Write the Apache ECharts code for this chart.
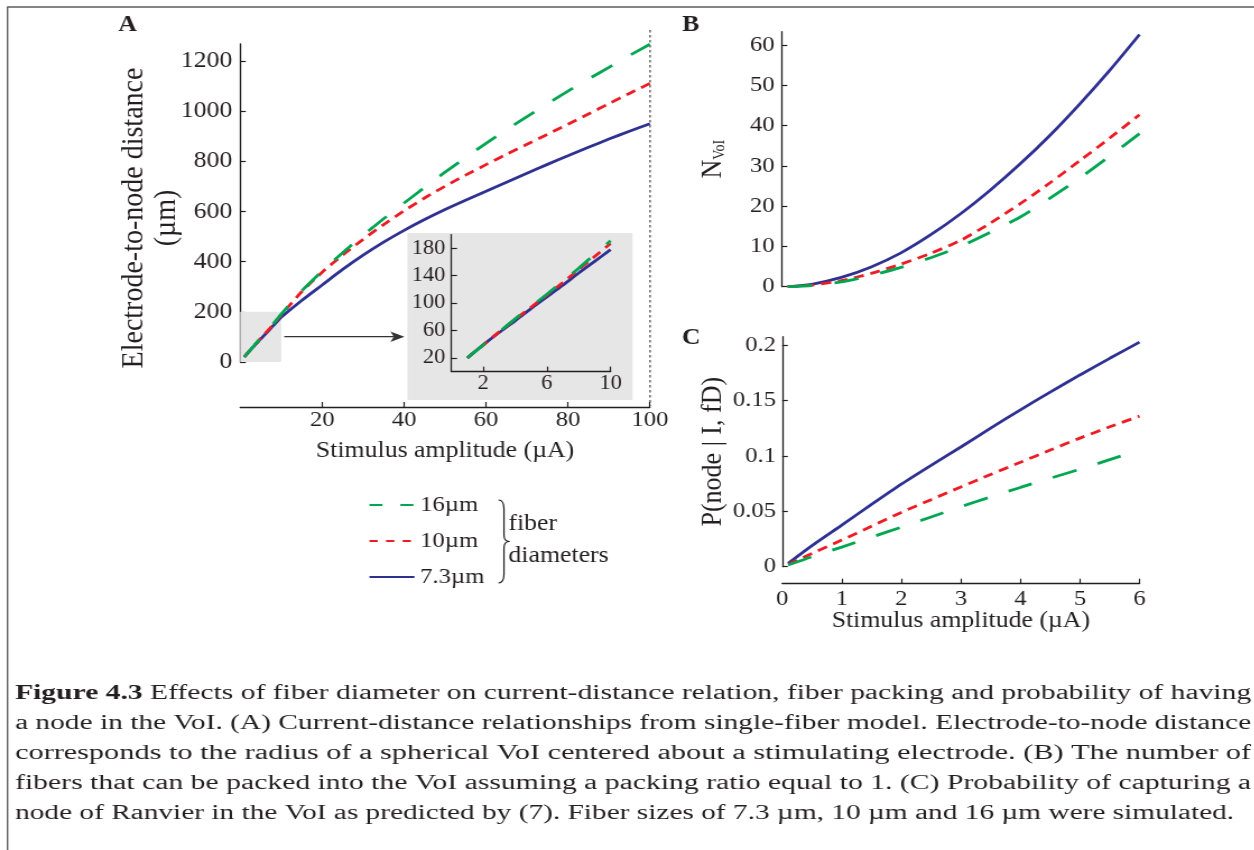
<!DOCTYPE html>
<html>
<head>
<meta charset="utf-8">
<script src="https://cdn.jsdelivr.net/npm/echarts@6/dist/echarts.min.js"></script>
<style>
  html, body { margin: 0; padding: 0; background: #fff; overflow: hidden; }
  #wrap { width: 1254px; height: 850px; overflow: hidden; position: relative; background: #fff; }
  #chart { position: absolute; left: 0; top: 0; height: 850px; transform-origin: 0 0; }
</style>
</head>
<body>
<div id="wrap"><div id="chart"></div></div>
<script>
// ---------- data ----------
const fiberNames = ['16µm', '10µm', '7.3µm'];

// (A) electrode-to-node distance (µm) vs stimulus amplitude (µA)
const ampA = [1, 2, 3, 4, 5, 6, 7, 8, 9, 10, 15, 20, 25, 30, 35, 40, 45, 50, 55, 60, 65, 70, 75, 80, 85, 90, 95, 100];
const distA16 = [20, 39, 58, 77, 95, 113, 132, 151, 171, 191, 283, 362, 436, 505, 571, 634, 696, 757, 815, 872, 926, 978, 1030, 1080, 1128, 1175, 1222, 1267];
const distA10 = [20, 39, 58, 76, 94, 112, 130, 149, 168, 187, 280, 358, 426, 489, 548, 603, 654, 701, 745, 787, 828, 868, 908, 948, 989, 1030, 1071, 1111];
const distA73 = [20, 39, 57, 74, 92, 109, 126, 144, 161, 178, 245, 307, 369, 426, 478, 525, 568, 608, 645, 681, 717, 753, 788, 822, 856, 889, 920, 950];
const insetCount = 10; // zoomed view covers 1–10 µA

// (B) number of fibers in the VoI, (C) probability of a node in the VoI
const ampBC = [0.1, 0.5, 1, 1.5, 2, 2.5, 3, 3.5, 4, 4.5, 5, 5.5, 6];
const nVoI16 = [0, 0.3, 1.2, 2.8, 4.8, 7.2, 10, 13.5, 17.3, 22, 27, 32.4, 38];
const nVoI10 = [0, 0.4, 1.5, 3.3, 5.6, 8.3, 11.5, 15.8, 20.6, 25.8, 31.3, 36.9, 42.7];
const nVoI73 = [0, 0.6, 2.3, 4.9, 8.4, 12.9, 18.1, 24, 30.5, 37.6, 45.4, 53.7, 62.6];
const pNode16 = [0.0015, 0.009, 0.0177, 0.0267, 0.0356, 0.0449, 0.0541, 0.063, 0.0715, 0.0798, 0.088, 0.0966, 0.1053];
const pNode10 = [0.002, 0.012, 0.024, 0.0365, 0.049, 0.0605, 0.072, 0.0832, 0.0942, 0.1052, 0.116, 0.1262, 0.1358];
const pNode73 = [0.003, 0.019, 0.0375, 0.0562, 0.0745, 0.0915, 0.108, 0.125, 0.1415, 0.1575, 0.173, 0.188, 0.2026];

// tick values
const ticksAx = [20, 40, 60, 80, 100];
const ticksAy = [0, 200, 400, 600, 800, 1000, 1200];
const ticksInsetX = [2, 6, 10];
const ticksInsetY = [20, 60, 100, 140, 180];
const ticksBy = [0, 10, 20, 30, 40, 50, 60];
const ticksCx = [0, 1, 2, 3, 4, 5, 6];
const ticksCy = [0, 0.05, 0.1, 0.15, 0.2];

const caption = [
  ['Figure 4.3', ' Effects of fiber diameter on current-distance relation, fiber packing and probability of having'],
  ['', 'a node in the VoI. (A) Current-distance relationships from single-fiber model. Electrode-to-node distance'],
  ['', 'corresponds to the radius of a spherical VoI centered about a stimulating electrode. (B) The number of'],
  ['', 'fibers that can be packed into the VoI assuming a packing ratio equal to 1. (C) Probability of capturing a'],
  ['', 'node of Ranvier in the VoI as predicted by (7). Fiber sizes of 7.3 µm, 10 µm and 16 µm were simulated.']
];

// ---------- layout ----------
// the figure is drawn narrow and widened horizontally by K
const K = 1.12;
const W = 1254 / K;
const chartEl = document.getElementById('chart');
chartEl.style.width = W + 'px';
chartEl.style.transform = 'scaleX(' + K + ')';
const px = x => x / K;

const ink = '#231f20';
const serif = '"Liberation Serif", "Times New Roman", serif';
const colors = { '16µm': '#00a651', '10µm': '#ed1c24', '7.3µm': '#2e3192' };
const dashes = { '16µm': [22, 20], '10µm': [9, 6], '7.3µm': 'solid' };

function valueAxis(o) {
  return {
    type: 'value', gridIndex: o.grid, min: o.min, max: o.max, show: o.show !== false,
    position: o.position, offset: o.offset || 0,
    name: o.name || '', nameLocation: 'middle', nameGap: o.nameGap || 0, nameRotate: o.nameRotate || 0,
    nameMoveOverlap: false,
    nameTextStyle: Object.assign({ color: ink, fontFamily: serif }, o.nameStyle || {}),
    axisLine: { show: true, onZero: false, lineStyle: { color: ink, width: 1.3 } },
    axisTick: { show: true, inside: true, length: 5, customValues: o.ticks, lineStyle: { color: ink, width: 1.2 } },
    axisLabel: {
      show: true, customValues: o.labels || o.ticks, color: ink, fontFamily: serif,
      fontSize: o.fontSize, margin: o.margin, hideOverlap: false,
      formatter: v => String(+v.toFixed(4))
    },
    splitLine: { show: false }
  };
}

function lineSeries(name, xs, ys, idx, extra) {
  return Object.assign({
    type: 'line', name: name, xAxisIndex: idx, yAxisIndex: idx,
    data: xs.map((x, i) => [x, ys[i]]),
    smooth: 0.25, symbol: 'none', silent: true,
    lineStyle: { color: colors[name], width: 2.8, type: dashes[name] },
    itemStyle: { color: colors[name] }
  }, extra || {});
}

const series = [];
const panels = [
  { idx: 0, xs: ampA, sets: [distA73, distA10, distA16] },
  { idx: 1, xs: ampA.slice(0, insetCount), sets: [distA73, distA10, distA16].map(a => a.slice(0, insetCount)) },
  { idx: 2, xs: ampBC, sets: [nVoI73, nVoI10, nVoI16] },
  { idx: 3, xs: ampBC, sets: [pNode73, pNode10, pNode16] }
];
const order = ['7.3µm', '10µm', '16µm'];
panels.forEach(p => {
  p.sets.forEach((ys, k) => {
    const extra = {};
    if (p.idx === 0 && k === 0) {
      // shaded region that is enlarged in the inset
      extra.markArea = {
        silent: true,
        itemStyle: { color: '#e6e6e6' },
        data: [[{ coord: [0, 0] }, { coord: [insetCount, 200] }]]
      };
    }
    series.push(lineSeries(order[k], p.xs, ys, p.idx, extra));
  });
});

// ---------- decorations ----------
const graphics = [];
const stroke = (x1, y1, x2, y2, st) => graphics.push({
  type: 'line', silent: true, shape: { x1: px(x1), y1: y1, x2: px(x2), y2: y2 },
  style: Object.assign({ stroke: ink, lineWidth: 1.2 }, st || {})
});
const curve = (x1, y1, cx, cy, x2, y2) => graphics.push({
  type: 'bezierCurve', silent: true,
  shape: { x1: px(x1), y1: y1, cpx1: px(cx), cpy1: cy, x2: px(x2), y2: y2 },
  style: { stroke: ink, lineWidth: 1.2, fill: null }
});
const label = (t, x, y, st) => graphics.push({
  type: 'text', silent: true, x: px(x), y: y,
  style: Object.assign({ text: t, fill: ink, fontFamily: serif, fontSize: 23, align: 'left', verticalAlign: 'middle' }, st || {})
});

// page frame
stroke(7, 7, 1254, 7, { stroke: '#5b5b5b', lineWidth: 1.6 });
stroke(7.5, 7, 7.5, 850, { stroke: '#5b5b5b', lineWidth: 1.4 });

// panel letters
label('A', 127.5, 25.5, { fontWeight: 'bold', align: 'center' });
label('B', 690, 25, { fontWeight: 'bold', align: 'center' });
label('C', 690.5, 338, { fontWeight: 'bold', align: 'center' });

// inset background
graphics.push({
  type: 'rect', silent: true, z: -10,
  shape: { x: px(407), y: 233, width: px(632) - px(407), height: 167 },
  style: { fill: '#e6e6e6' }
});

// arrow towards the inset
stroke(284, 336.7, 394, 336.7, { stroke: '#333', lineWidth: 1.2 });
graphics.push({
  type: 'polygon', silent: true,
  shape: { points: [[px(404), 336.7], [px(390), 331.5], [px(393.5), 336.7], [px(390), 342]] },
  style: { fill: '#333' }
});

// dotted limit at 100 µA
stroke(649.5, 30, 649.5, 406, { lineWidth: 1, lineDash: [2.5, 2.5] });

// brace grouping the legend
curve(498, 500, 503.5, 500, 503.5, 509);
stroke(503.5, 509, 503.5, 535);
curve(503.5, 535, 503.5, 541.5, 509, 541.5);
curve(509, 541.5, 503.5, 541.5, 503.5, 548);
stroke(503.5, 548, 503.5, 574);
curve(503.5, 574, 503.5, 583, 498, 583);
label('fiber', 508, 524);
label('diameters', 508, 556);

// caption, each line fitted to the text block width
const mctx = document.createElement('canvas').getContext('2d');
const capSize = 20;
const measure = (s, weight) => { mctx.font = weight + ' ' + capSize + 'px "Liberation Serif"'; return mctx.measureText(s).width; };
caption.forEach((ln, i) => {
  const natural = measure(ln[0], 'bold') + measure(ln[1], 'normal');
  const right = i === caption.length - 1 ? 1233 : 1250;
  const sx = ((right - 15) / K) / natural;
  graphics.push({
    type: 'text', silent: true, x: px(15), y: 694 + 30 * i, scaleX: sx, originX: 0, originY: 0,
    style: {
      text: (ln[0] ? '{b|' + ln[0] + '}' : '') + ln[1],
      rich: { b: { fontWeight: 'bold', fontSize: capSize, fontFamily: serif, fill: ink } },
      fill: ink, fontFamily: serif, fontSize: capSize, align: 'left', verticalAlign: 'middle'
    }
  });
});

// ---------- chart ----------
const chart = echarts.init(chartEl, null, { renderer: 'canvas', width: W, height: 850 });
const gridBase = { containLabel: false, outerBoundsMode: 'none', show: false };
const option = {
  animation: false,
  backgroundColor: 'transparent',
  textStyle: { fontFamily: serif, color: ink },
  grid: [
    Object.assign({ left: px(240), top: 44, width: px(649.3) - px(240), height: 318 }, gridBase),
    Object.assign({ left: px(451), top: 234.6, width: px(610) - px(451), height: 137 }, gridBase),
    Object.assign({ left: px(781), top: 31.7, width: px(1138.5) - px(781), height: 255 }, gridBase),
    Object.assign({ left: px(781.5), top: 336.7, width: px(1138.5) - px(781.5), height: 230 }, gridBase)
  ],
  xAxis: [
    valueAxis({ grid: 0, min: 0, max: 100, position: 'bottom', offset: 45, ticks: ticksAx, fontSize: 22, margin: 2,
      name: 'Stimulus amplitude (µA)', nameGap: 32, nameStyle: { fontSize: 23, lineHeight: 24 } }),
    valueAxis({ grid: 1, min: 0, max: 10, position: 'bottom', ticks: ticksInsetX, fontSize: 20, margin: 1.7 }),
    valueAxis({ grid: 2, min: 0, max: 6, position: 'bottom', show: false, ticks: ticksCx, fontSize: 22, margin: 5 }),
    valueAxis({ grid: 3, min: 0, max: 6, position: 'bottom', offset: 17, ticks: ticksCx.slice(1), labels: ticksCx, fontSize: 22, margin: 5,
      name: 'Stimulus amplitude (µA)', nameGap: 25.7, nameStyle: { fontSize: 23, lineHeight: 24 } })
  ],
  yAxis: [
    valueAxis({ grid: 0, min: 0, max: 1268, position: 'left', ticks: ticksAy, fontSize: 23, margin: 7.1,
      name: 'Electrode-to-node distance\n(µm)', nameRotate: 90, nameGap: 51.5,
      nameStyle: { fontSize: 28, lineHeight: 29, padding: [0, 30, 0, 0] } }),
    valueAxis({ grid: 1, min: 0, max: 200, position: 'left', ticks: ticksInsetY, fontSize: 20, margin: 5.4 }),
    valueAxis({ grid: 2, min: 0, max: 63.3, position: 'left', ticks: ticksBy, fontSize: 22, margin: 6.25,
      name: '{n|N}{s|VoI}', nameRotate: 90, nameGap: 48,
      nameStyle: { rich: {
        n: { fontSize: 26, lineHeight: 26, fontFamily: serif, color: ink, verticalAlign: 'top' },
        s: { fontSize: 14, lineHeight: 14, fontFamily: serif, color: ink, verticalAlign: 'bottom', padding: [15, 0, 0, 0] }
      } } }),
    valueAxis({ grid: 3, min: 0, max: 0.2075, position: 'left', ticks: ticksCy, fontSize: 22, margin: 5.4,
      name: 'P(node | I, fD)', nameRotate: 90, nameGap: 48.4, nameStyle: { fontSize: 26, lineHeight: 26 } })
  ],
  legend: {
    orient: 'vertical', left: px(368), top: 494, padding: 0,
    itemWidth: px(413) - px(368), itemHeight: 22, itemGap: 14,
    selectedMode: false,
    itemStyle: { opacity: 0 },
    textStyle: { color: ink, fontFamily: serif, fontSize: 22 },
    data: [
      { name: fiberNames[0], lineStyle: { type: [11.6, 16] } },
      { name: fiberNames[1], lineStyle: { type: [7.4, 7.4] } },
      { name: fiberNames[2] }
    ]
  },
  graphic: { elements: graphics },
  series: series
};
chart.setOption(option);
</script>
</body>
</html>
